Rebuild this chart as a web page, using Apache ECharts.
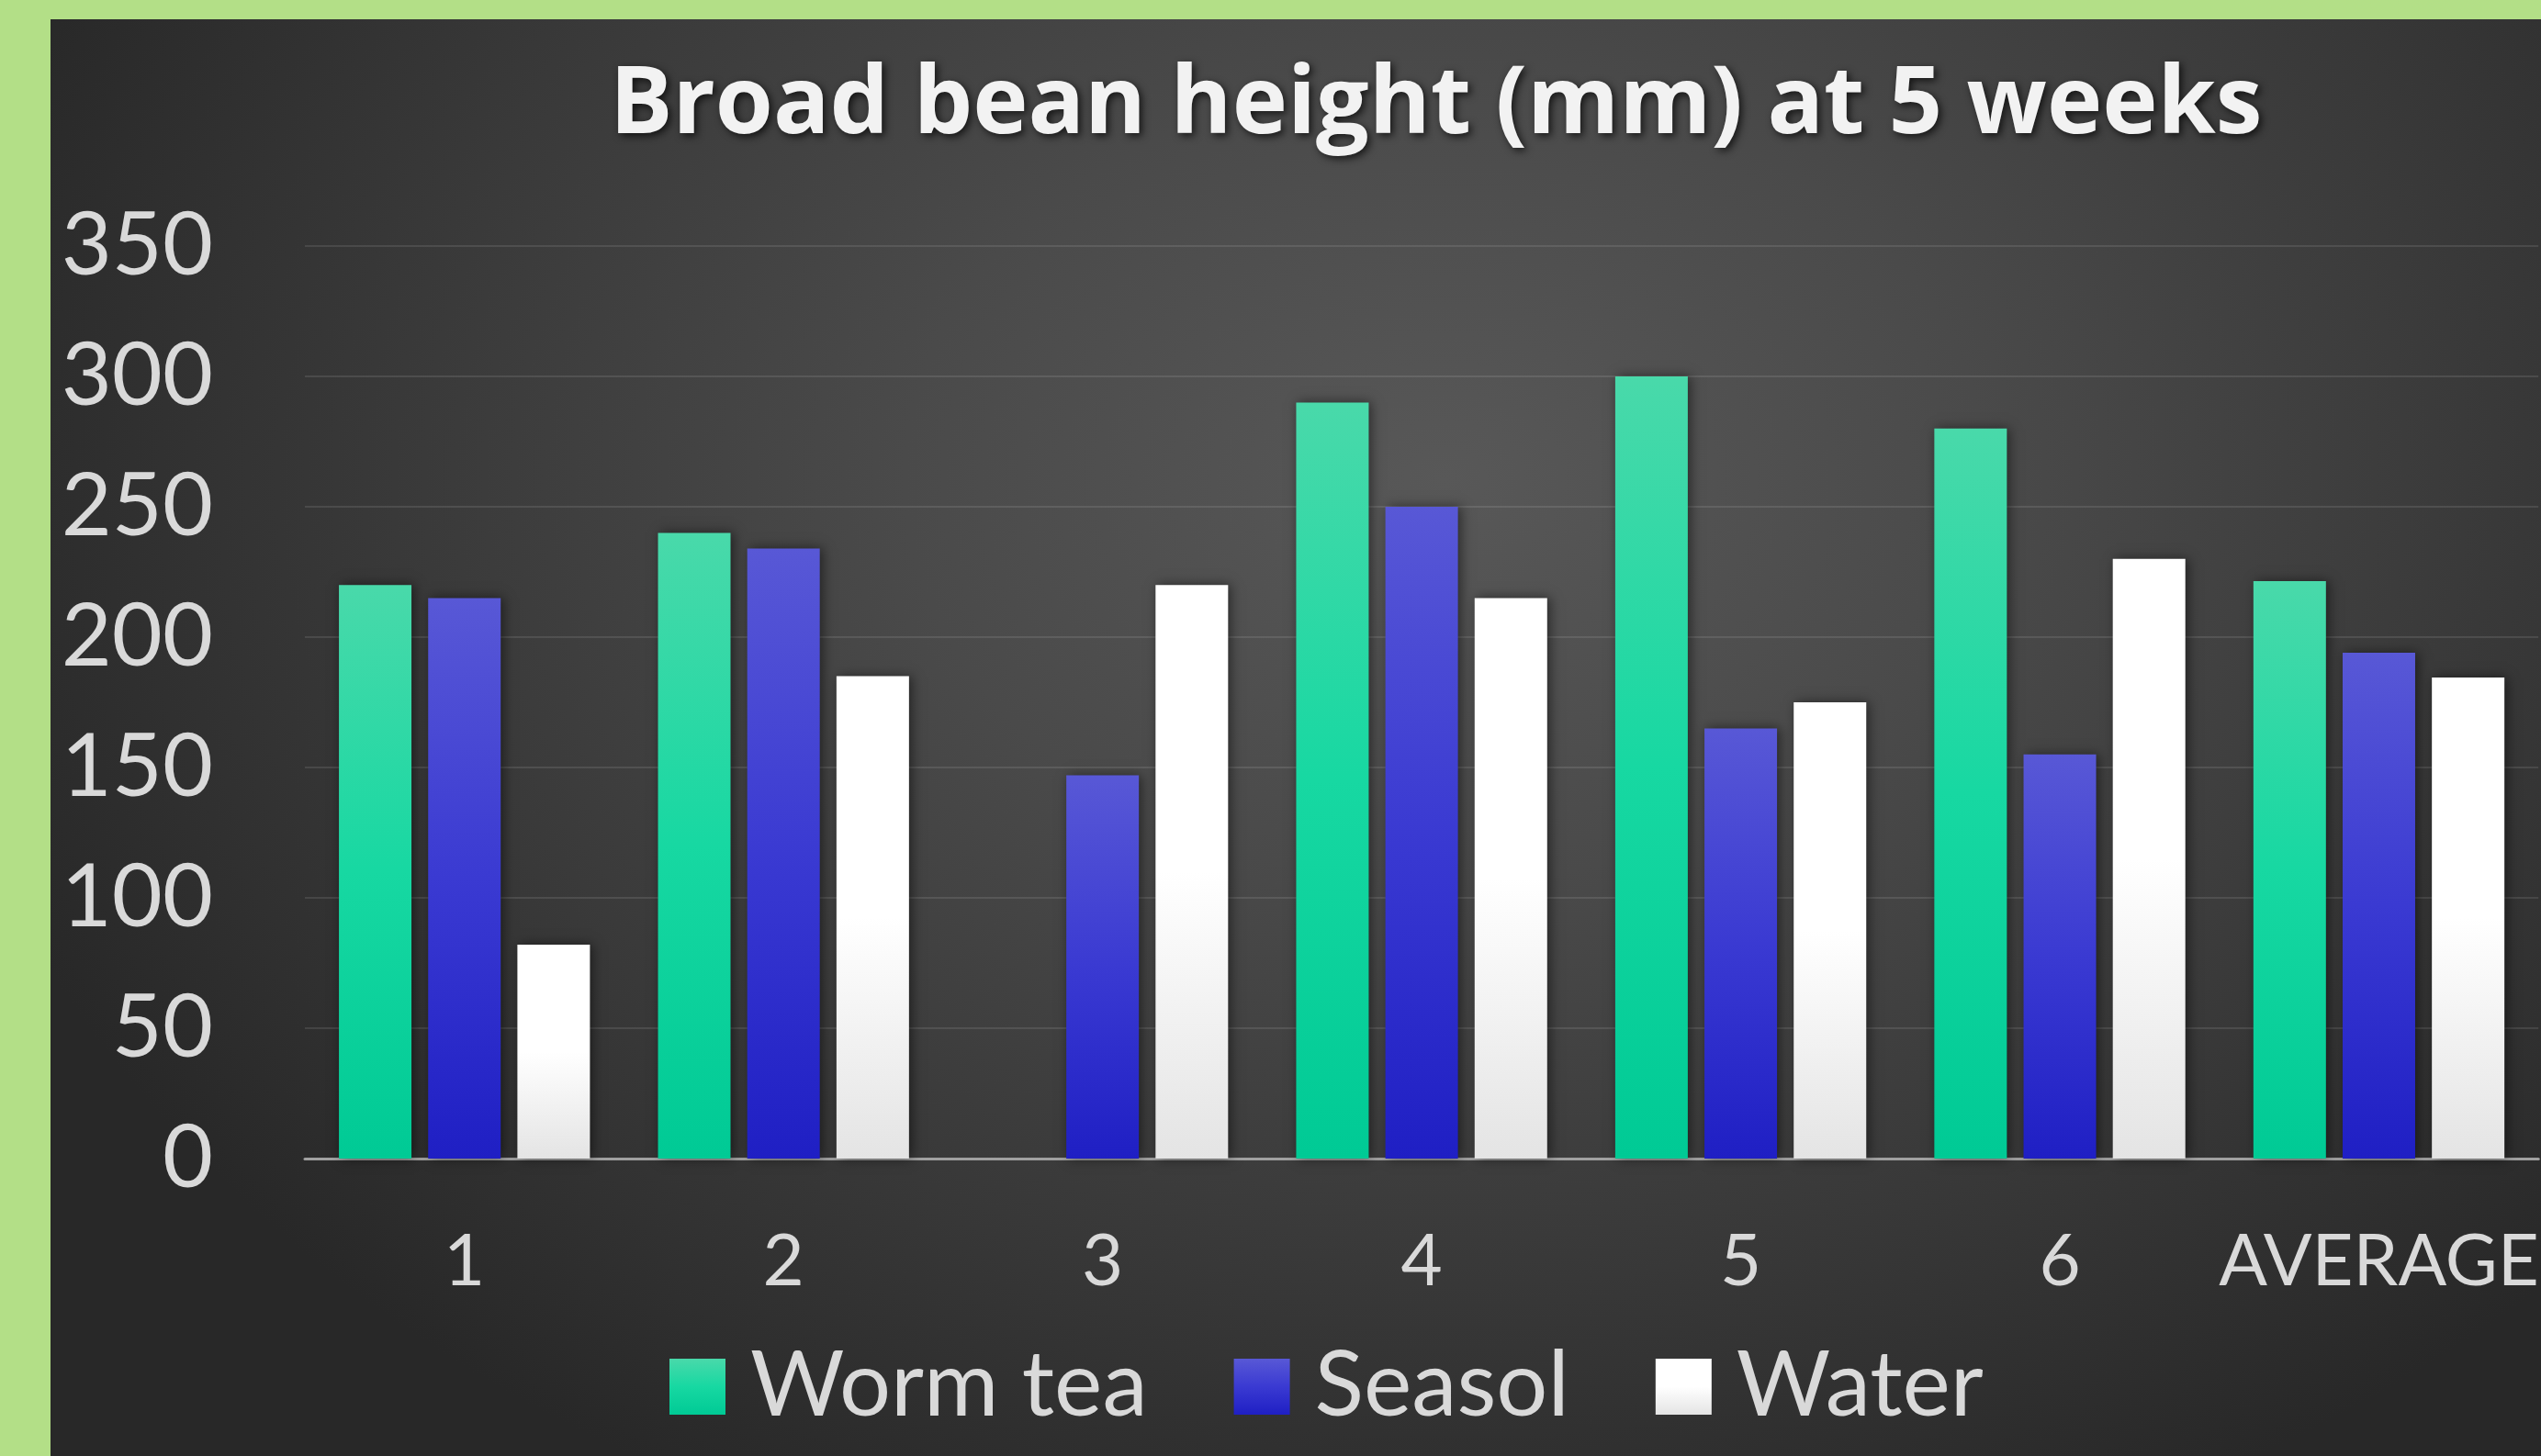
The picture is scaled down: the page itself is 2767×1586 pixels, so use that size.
<!DOCTYPE html>
<html>
<head>
<meta charset="utf-8">
<script src="https://cdn.jsdelivr.net/npm/echarts@6/dist/echarts.min.js"></script>
<style>
  html, body { margin: 0; padding: 0; width: 2767px; height: 1586px; overflow: hidden; background: #B3DF87; }
  #chart {
    position: absolute; left: 55px; top: 21px; width: 2712px; height: 1565px;
    background: radial-gradient(ellipse 62% 80% at 56% 32%, #585858 0%, #4a4a4a 35%, #383838 70%, #282828 100%);
  }
</style>
</head>
<body>
<div id="chart"></div>
<script>
const titleText = 'Broad bean height (mm) at 5 weeks';
const categories = ['1', '2', '3', '4', '5', '6', 'AVERAGE'];
const seriesNames = ['Worm tea', 'Seasol', 'Water'];
const wormTea = [220, 240, null, 290, 300, 280, 221.5];
const seasol = [215, 234, 147, 250, 165, 155, 194];
const water = [82, 185, 220, 215, 175, 230, 184.5];
const yTicks = { min: 0, max: 350, interval: 50 };

const FONT = 'Lato, "Open Sans", sans-serif';
const TITLE_FONT = '"Open Sans", Lato, sans-serif';
function grad(top, mid, bottom) {
  return new echarts.graphic.LinearGradient(0, 0, 0, 1, [
    { offset: 0, color: top }, { offset: 0.5, color: mid }, { offset: 1, color: bottom }
  ]);
}
const colors = [
  grad('#49D9AA', '#17D8A2', '#00CA95'),
  grad('#5858D6', '#3A3AD2', '#1F1FC4'),
  grad('#FFFFFF', '#FFFFFF', '#E4E4E4')
];
const dataSets = [wormTea, seasol, water];

const chart = echarts.init(document.getElementById('chart'), null, { renderer: 'canvas' });
chart.setOption({
  backgroundColor: 'transparent',
  animation: false,
  title: {
    text: titleText,
    left: 604, top: 37,
    textStyle: {
      fontFamily: TITLE_FONT, fontWeight: 'bold', fontSize: 102, lineHeight: 106,
      color: '#F2F2F2',
      textShadowColor: 'rgba(0,0,0,0.7)', textShadowBlur: 8, textShadowOffsetX: 3, textShadowOffsetY: 3
    }
  },
  legend: {
    data: seriesNames,
    left: 669, top: 1435,
    icon: 'rect',
    itemWidth: 61, itemHeight: 61,
    itemGap: 94,
    textStyle: { fontFamily: FONT, fontSize: 99, lineHeight: 61, color: '#D9D9D9', padding: [0, 0, 0, 22] }
  },
  grid: { left: 277, right: -9, top: 247, bottom: 324, containLabel: false },
  xAxis: {
    type: 'category',
    data: categories,
    axisLine: { show: true, lineStyle: { color: '#A0A0A0', width: 3 } },
    axisTick: { show: false },
    axisLabel: { fontFamily: FONT, fontSize: 78, lineHeight: 78, color: '#D9D9D9', margin: 74, interval: 0 },
    splitLine: { show: false }
  },
  yAxis: {
    type: 'value',
    min: yTicks.min, max: yTicks.max, interval: yTicks.interval,
    axisLine: { show: false },
    axisTick: { show: false },
    axisLabel: { fontFamily: FONT, fontSize: 95, color: '#D9D9D9', margin: 100 },
    splitLine: { show: true, lineStyle: { color: 'rgba(255,255,255,0.1)', width: 2 } }
  },
  series: seriesNames.map((name, i) => ({
    name,
    type: 'bar',
    data: dataSets[i],
    barWidth: 79,
    barGap: '23%',
    itemStyle: {
      color: colors[i],
      shadowColor: 'rgba(0,0,0,0.5)', shadowBlur: 12, shadowOffsetX: 3, shadowOffsetY: 0
    }
  }))
});
</script>
</body>
</html>
